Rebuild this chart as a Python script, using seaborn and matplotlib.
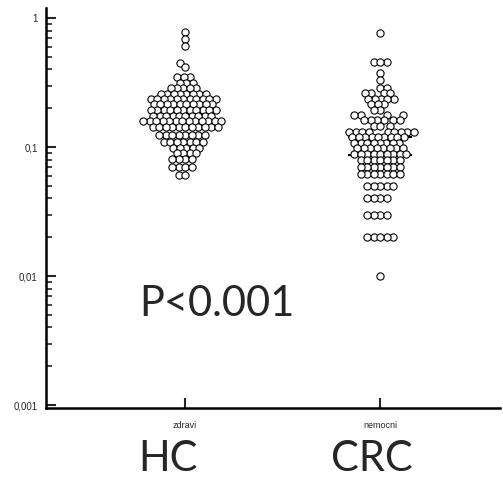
import numpy as np
import pandas as pd
import matplotlib
matplotlib.use("Agg")
import matplotlib.pyplot as plt
import seaborn as sns
from matplotlib.ticker import FixedLocator, LogLocator, NullFormatter

# values (one row of circles per value)
hc_values = [0.78, 0.69, 0.61, 0.45, 0.42, 0.349, 0.316, 0.287, 0.260, 0.236,
             0.214, 0.194, 0.175, 0.159, 0.144, 0.124, 0.109, 0.099, 0.090,
             0.081, 0.070, 0.061]
hc_counts = [1, 1, 1, 1, 1, 3, 3, 5, 8, 11, 10, 11, 10, 13, 11, 8, 7, 5, 4,
             4, 4, 2]

crc_values = [0.77, 0.456, 0.375, 0.331, 0.289, 0.262, 0.238, 0.216, 0.195,
              0.177, 0.161, 0.146, 0.132, 0.12, 0.108, 0.098, 0.089, 0.079,
              0.07, 0.062, 0.05, 0.04, 0.03, 0.02, 0.01]
crc_counts = [1, 3, 1, 1, 2, 4, 5, 3, 2, 4, 6, 3, 9, 9, 8, 8, 9, 7, 7, 7,
              5, 4, 4, 5, 1]

groups = ["zdravi", "nemocni"]
group_names = ["HC", "CRC"]
# the two horizontal lines drawn in each group
hc_lines = [0.19, 0.165]
crc_lines = [0.12, 0.087]

yticks = [0.001, 0.01, 0.1, 1]
ytick_labels = ["0,001", "0,01", "0,1", "1"]

data = pd.DataFrame({
    "group": ["zdravi"] * sum(hc_counts) + ["nemocni"] * sum(crc_counts),
    "value": np.concatenate([np.repeat(hc_values, hc_counts),
                             np.repeat(crc_values, crc_counts)]),
})

sns.set_style("white")
plt.rcParams["font.family"] = ["Liberation Sans", "DejaVu Sans"]

fig = plt.figure(figsize=(5.03, 4.79), dpi=100)
ax = fig.add_axes([0.0915, 0.148, 0.9025, 0.835])
ax.set_yscale("log")

# lay out the swarm with a smaller marker so neighbouring rows may overlap
# a little like in the original, then freeze positions and draw bigger circles
sns.swarmplot(data=data, x="group", y="value", order=groups, ax=ax,
              size=3.65, color="white", edgecolor="black", linewidth=0.8,
              zorder=3)
ax.set_xlim(-0.713, 1.615)
ax.set_ylim(0.000948, 1.195)
fig.canvas.draw()
for pts in ax.collections:
    if "draw" in vars(pts):
        del pts.draw
    pts.set_sizes([5.2 ** 2])

lines = [hc_lines, crc_lines]
for i, vals in enumerate(lines):
    ax.hlines(vals, i - 0.165, i + 0.165, colors="black", linewidth=1.5, zorder=2)

ax.yaxis.set_major_locator(FixedLocator(yticks))
ax.set_yticklabels(ytick_labels)
ax.yaxis.set_minor_locator(LogLocator(base=10, subs=np.arange(2, 10)))
ax.yaxis.set_minor_formatter(NullFormatter())
ax.tick_params(axis="y", which="major", direction="in", length=7, width=1.5,
               labelsize=7, pad=6, left=True)
ax.tick_params(axis="y", which="minor", direction="in", length=4, width=1.2,
               left=True)
ax.tick_params(axis="x", direction="in", length=7, width=1.5, labelsize=6.5,
               pad=9, bottom=True)

ax.set_xlabel("")
ax.set_ylabel("")
for side in ["top", "right"]:
    ax.spines[side].set_visible(False)
for side in ["left", "bottom"]:
    ax.spines[side].set_linewidth(1.8)
    ax.spines[side].set_color("black")

trans = ax.get_xaxis_transform()
offsets = [-0.087, -0.04]
for i, name in enumerate(group_names):
    ax.text(i + offsets[i], -0.158, name, transform=trans, ha="center",
            va="baseline", fontsize=30, family=["Lato", "DejaVu Sans"],
            clip_on=False)

ax.text(0.377, 0.23, "P<0.001", transform=ax.transAxes, ha="center",
        va="baseline", fontsize=30, family=["Lato", "DejaVu Sans"])

fig.savefig("out.png", dpi=100)
